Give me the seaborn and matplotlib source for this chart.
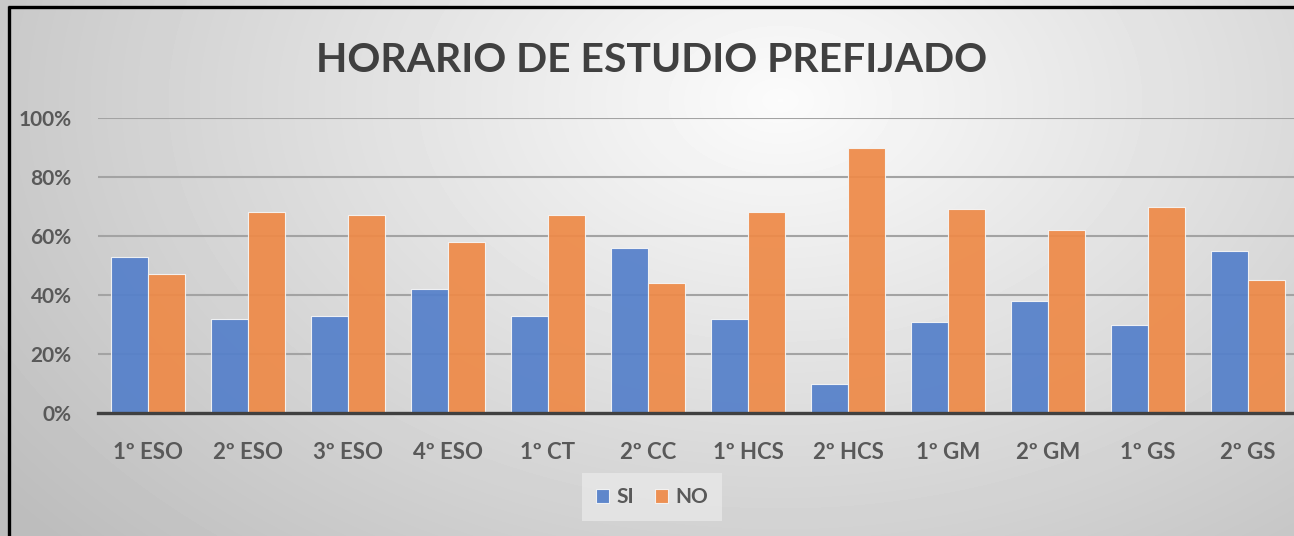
import numpy as np
import pandas as pd
import matplotlib
matplotlib.use("Agg")
import matplotlib.pyplot as plt
import seaborn as sns
from matplotlib.lines import Line2D
from matplotlib.ticker import PercentFormatter

# ---- data ----
cursos = ["1º ESO", "2º ESO", "3º ESO", "4º ESO", "1º CT", "2º CC",
          "1º HCS", "2º HCS", "1º GM", "2º GM", "1º GS", "2º GS"]
si = [0.53, 0.32, 0.33, 0.42, 0.33, 0.56, 0.32, 0.10, 0.31, 0.38, 0.30, 0.55]
no = [0.47, 0.68, 0.67, 0.58, 0.67, 0.44, 0.68, 0.90, 0.69, 0.62, 0.70, 0.45]
series = ["SI", "NO"]
colores = ["#5580CA", "#EE8A48"]
titulo = "HORARIO DE ESTUDIO PREFIJADO"

df = pd.DataFrame({"curso": cursos * 2,
                   "valor": si + no,
                   "serie": ["SI"] * len(cursos) + ["NO"] * len(cursos)})

sns.set_theme(style="white")
plt.rcParams["font.family"] = ["Lato", "DejaVu Sans"]

W, H = 1294, 536
fig = plt.figure(figsize=(W / 100, H / 100), dpi=100)

# radial grey gradient background
bg = fig.add_axes([0, 0, 1, 1], zorder=-10)
yy, xx = np.mgrid[0:H, 0:W]
r = np.sqrt(((xx - 780) / 720.0) ** 2 + ((yy - 100) / 480.0) ** 2)
val = np.clip(0.985 - 0.18 * r, 0.74, 1.0)
bg.imshow(val, cmap="gray", vmin=0, vmax=1, aspect="auto",
          extent=[0, W, H, 0], interpolation="bilinear")
bg.set_xlim(0, W)
bg.set_ylim(H, 0)
bg.axis("off")

ax = fig.add_axes([98 / W, 123 / H, 1200 / W, 295 / H])
ax.patch.set_alpha(0)

sns.barplot(data=df, x="curso", y="valor", hue="serie", hue_order=series,
            palette=colores, width=0.74, ax=ax, alpha=0.93, saturation=1,
            edgecolor="#f6f6f6", linewidth=0.8, legend=True, zorder=3)

ax.set_xlim(-0.5, 11.5)
ax.set_ylim(0, 1.0)
ax.set_yticks([0, 0.2, 0.4, 0.6, 0.8, 1.0])
ax.yaxis.set_major_formatter(PercentFormatter(1.0, decimals=0))
ax.tick_params(axis="both", length=0)
ax.tick_params(axis="y", pad=19, labelsize=15, labelcolor="#595959")
ax.tick_params(axis="x", pad=21)
ax.set_xticks(range(len(cursos)))
ax.set_xticklabels(cursos, fontweight="bold", fontsize=16, color="#595959")
for t in ax.get_yticklabels():
    t.set_fontweight("bold")
ax.grid(axis="y", color="#a3a3a3", linewidth=1.5, zorder=1)
ax.set_axisbelow(True)
for s in ["top", "right", "left"]:
    ax.spines[s].set_visible(False)
ax.spines["bottom"].set_color("#404040")
ax.spines["bottom"].set_linewidth(2.4)
ax.spines["bottom"].set_zorder(5)
ax.set_xlabel("")
ax.set_ylabel("")

leg = ax.legend(loc="center", bbox_to_anchor=(652 / W, 1 - 497 / H),
                bbox_transform=fig.transFigure, ncol=2, frameon=True,
                handlelength=0.65, handleheight=0.65,
                handletextpad=0.35, columnspacing=1.0, borderpad=0.45,
                prop={"weight": "bold", "size": 15})
leg.get_frame().set_facecolor("#e8e8e8")
leg.get_frame().set_edgecolor("none")
leg.get_frame().set_alpha(0.8)
leg.get_frame().set_boxstyle("square", pad=0.2)
for txt in leg.get_texts():
    txt.set_color("#595959")

fig.text(652 / W, 1 - 60 / H, titulo, ha="center", va="center",
         fontsize=29.4, fontweight="bold", color="#404040")

# black frame on top and left edges
fig.add_artist(Line2D([8 / W, 1.0], [1 - 7 / H, 1 - 7 / H], color="black",
                      linewidth=2.4, solid_capstyle="butt",
                      transform=fig.transFigure))
fig.add_artist(Line2D([9 / W, 9 / W], [0.0, 1 - 6 / H], color="black",
                      linewidth=2.4, solid_capstyle="butt",
                      transform=fig.transFigure))

fig.savefig("out.png", dpi=100)
